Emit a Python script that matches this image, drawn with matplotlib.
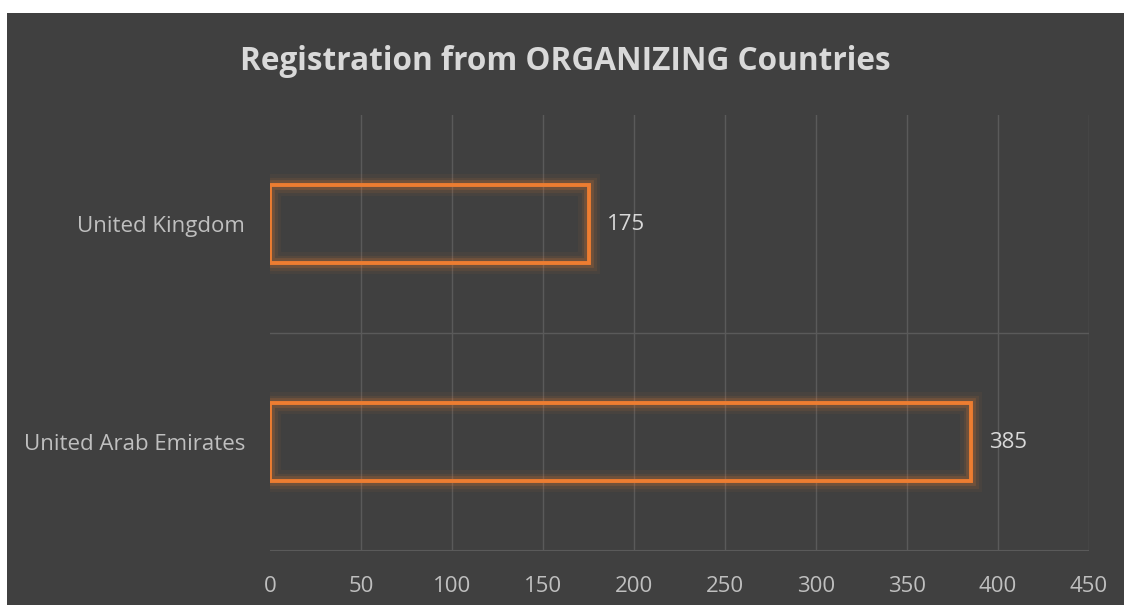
import matplotlib.pyplot as plt
import matplotlib.patheffects as pe
from matplotlib.patches import Rectangle

countries = ["United Arab Emirates", "United Kingdom"]
registrations = [385, 175]
x_ticks = [0, 50, 100, 150, 200, 250, 300, 350, 400, 450]
title = "Registration from ORGANIZING Countries"

BG = "#404040"
ORANGE = "#ED7D31"
TXT = "#d9d9d9"
GRID = "#5a5a5a"

plt.rcParams["font.family"] = ["Open Sans", "DejaVu Sans"]

fig = plt.figure(figsize=(11.24, 6.05), dpi=100)
fig.patch.set_facecolor(BG)
# thin white margin on top and left of the chart panel
fig.patches.append(Rectangle((0, 1 - 13 / 605), 1, 13 / 605, transform=fig.transFigure,
                             facecolor="white", edgecolor="none"))
fig.patches.append(Rectangle((0, 0), 7 / 1124, 1, transform=fig.transFigure,
                             facecolor="white", edgecolor="none"))

ax = fig.add_axes([270 / 1124, 54 / 605, 819 / 1124, 436 / 605])
ax.set_facecolor("none")

ypos = list(range(len(countries)))
bars = ax.barh(ypos, registrations, height=0.36, facecolor="none",
               edgecolor=ORANGE, linewidth=2.8, zorder=3)
glow = [pe.Stroke(linewidth=16, foreground=ORANGE, alpha=0.05),
        pe.Stroke(linewidth=11, foreground=ORANGE, alpha=0.09),
        pe.Stroke(linewidth=7, foreground=ORANGE, alpha=0.18),
        pe.Normal()]
for b in bars:
    b.set_path_effects(glow)

for y, v in zip(ypos, registrations):
    ax.text(v + 10, y, str(v), va="center", ha="left", color=TXT, fontsize=16)

ax.set_xlim(0, 450)
ax.set_ylim(-0.5, len(countries) - 0.5)
ax.set_xticks(x_ticks)
ax.set_yticks(ypos)
ax.set_yticklabels(countries)

for x in x_ticks[1:]:
    ax.axvline(x, color=GRID, lw=1, zorder=1)
ax.axhline(0.5, color=GRID, lw=1, zorder=1)
ax.axhline(-0.5, color=GRID, lw=1.5, zorder=1)

for s in ax.spines.values():
    s.set_visible(False)
ax.tick_params(axis="both", length=0, colors="#bfbfbf", labelsize=16)
ax.tick_params(axis="x", pad=18)
ax.tick_params(axis="y", pad=18)

fig.text(565 / 1124, 1 - 61 / 605, title, ha="center", va="center",
         color=TXT, fontsize=22.7, fontweight="bold")

fig.savefig("out.png", dpi=100, facecolor=fig.get_facecolor())
